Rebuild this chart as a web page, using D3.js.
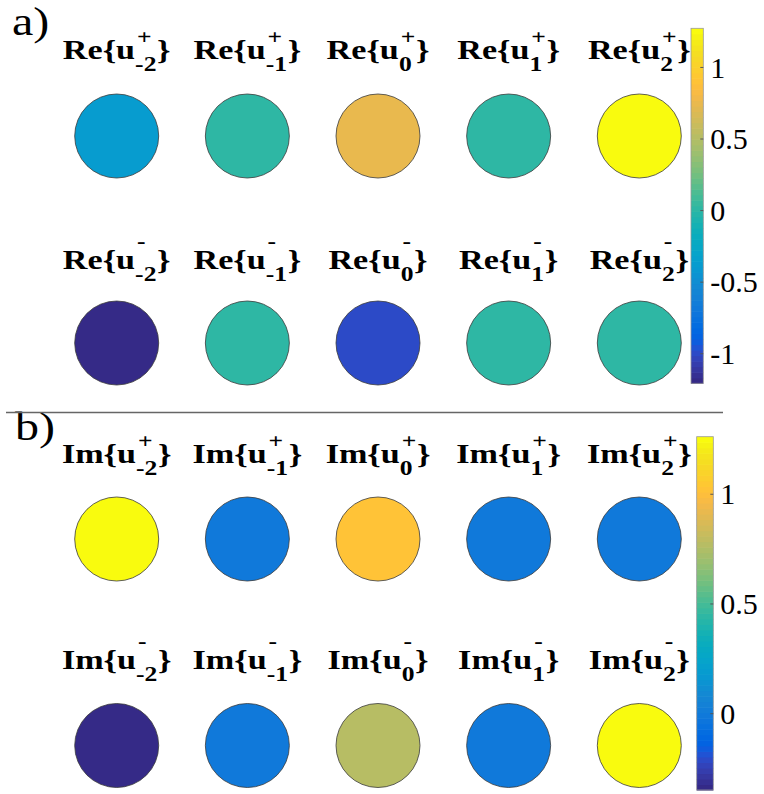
<!DOCTYPE html>
<html>
<head>
<meta charset="utf-8">
<script src="https://cdn.jsdelivr.net/npm/d3@7"></script>
<style>
  html, body { margin: 0; padding: 0; background: #fff; }
  svg { display: block; }
  svg text { font-family: "Liberation Serif", "Times New Roman", Times, serif; }
</style>
</head>
<body>
<svg id="fig" width="764" height="794"></svg>
<script>
// Mode coefficients u^{±}_n for n = -2..2
const orders = [-2, -1, 0, 1, 2];
const orderLabels = ["-2", "-1", "0", "1", "2"];

// Real parts
const reUpper = [-0.38, 0.00, 0.75, 0.00, 1.27];
const reLower = [-1.21, 0.00, -1.00, 0.00, 0.00];
// Imaginary parts
const imUpper = [1.26, 0.00, 1.02, 0.00, 0.00];
const imLower = [-0.35, 0.00, 0.76, 0.00, 1.26];

// Colorbar ticks
const reTicks = [-1, -0.5, 0, 0.5, 1];
const reTickLabels = ["-1", "-0.5", "0", "0.5", "1"];
const imTicks = [0, 0.5, 1];
const imTickLabels = ["0", "0.5", "1"];

// 64-level parula colormap
const parula = [
  [0.2081,0.1663,0.5292],[0.2116,0.1898,0.5777],[0.2123,0.2138,0.6270],[0.2081,0.2386,0.6771],
  [0.1959,0.2645,0.7279],[0.1707,0.2919,0.7792],[0.1253,0.3242,0.8303],[0.0591,0.3598,0.8683],
  [0.0117,0.3875,0.8820],[0.0060,0.4086,0.8828],[0.0165,0.4266,0.8786],[0.0329,0.4430,0.8720],
  [0.0498,0.4586,0.8641],[0.0629,0.4737,0.8554],[0.0723,0.4887,0.8467],[0.0779,0.5040,0.8384],
  [0.0793,0.5200,0.8312],[0.0749,0.5375,0.8263],[0.0641,0.5570,0.8240],[0.0488,0.5772,0.8228],
  [0.0343,0.5966,0.8199],[0.0265,0.6137,0.8135],[0.0239,0.6287,0.8038],[0.0231,0.6418,0.7913],
  [0.0228,0.6535,0.7768],[0.0267,0.6642,0.7607],[0.0384,0.6743,0.7436],[0.0590,0.6838,0.7254],
  [0.0843,0.6928,0.7062],[0.1133,0.7015,0.6859],[0.1453,0.7098,0.6646],[0.1801,0.7177,0.6424],
  [0.2178,0.7250,0.6193],[0.2586,0.7317,0.5954],[0.3022,0.7376,0.5712],[0.3482,0.7424,0.5473],
  [0.3953,0.7459,0.5244],[0.4420,0.7481,0.5033],[0.4871,0.7491,0.4840],[0.5300,0.7491,0.4661],
  [0.5709,0.7485,0.4494],[0.6099,0.7473,0.4337],[0.6473,0.7456,0.4188],[0.6834,0.7435,0.4044],
  [0.7184,0.7411,0.3905],[0.7525,0.7384,0.3768],[0.7858,0.7356,0.3633],[0.8185,0.7327,0.3498],
  [0.8507,0.7299,0.3360],[0.8824,0.7274,0.3217],[0.9139,0.7258,0.3063],[0.9450,0.7261,0.2886],
  [0.9739,0.7314,0.2666],[0.9938,0.7455,0.2403],[0.9990,0.7653,0.2164],[0.9955,0.7861,0.1967],
  [0.9880,0.8066,0.1794],[0.9789,0.8271,0.1633],[0.9697,0.8481,0.1475],[0.9626,0.8705,0.1309],
  [0.9589,0.8949,0.1132],[0.9598,0.9218,0.0948],[0.9661,0.9514,0.0755],[0.9763,0.9831,0.0538]
].map(c => d3.rgb(c[0] * 255, c[1] * 255, c[2] * 255).formatHex());

const svg = d3.select("#fig");

// horizontal placement of the five modes
const x = d3.scaleLinear().domain([-2, 2]).range([116.7, 639.3]);

const panels = [
  {
    tag: "a)", tagX: 12, tagY: 35,
    part: "Re",
    rows: [
      { sign: "+", values: reUpper, cy: 136, titleY: 59 },
      { sign: "-", values: reLower, cy: 343, titleY: 269 }
    ],
    ticks: reTicks, tickLabels: reTickLabels,
    bar: { x: 691, w: 12.3, top: 28.3, bottom: 383.3 }
  },
  {
    tag: "b)", tagX: 15, tagY: 440,
    part: "Im",
    rows: [
      { sign: "+", values: imUpper, cy: 539, titleY: 463 },
      { sign: "-", values: imLower, cy: 745.5, titleY: 669 }
    ],
    ticks: imTicks, tickLabels: imTickLabels,
    bar: { x: 696.7, w: 16.6, top: 436.7, bottom: 790 }
  }
];

const MAIN_SIZE = 28, SCRIPT_SIZE = 21, STRETCH = 1.22, R = 42;

// title of the form Re{u^±_n}, with the two scripts stacked after "u"
function drawTitle(g, cx, baseline, part, sign, sub) {
  const t = g.append("g").style("font-weight", "bold").attr("fill", "#000");
  const head = t.append("text").attr("x", 0).attr("y", 0).style("font-size", MAIN_SIZE + "px").text(part + "{u");
  const w0 = head.node().getComputedTextLength();
  const supDy = sign === "+" ? -15 : -21;
  const sup = t.append("text").attr("x", w0 + 1.5).attr("y", supDy).style("font-size", SCRIPT_SIZE + "px").text(sign);
  const subT = t.append("text").attr("x", w0).attr("y", 11.5).style("font-size", SCRIPT_SIZE + "px").text(sub);
  const w1 = Math.max(sup.node().getComputedTextLength() + 1.5, subT.node().getComputedTextLength());
  const tail = t.append("text").attr("x", w0 + w1 + 0.5).attr("y", 0).style("font-size", MAIN_SIZE + "px").text("}");
  const total = w0 + w1 + 0.5 + tail.node().getComputedTextLength();
  t.attr("transform", `translate(${cx - total * STRETCH / 2},${baseline}) scale(${STRETCH},1)`);
}

panels.forEach(p => {
  const all = p.rows.flatMap(r => r.values);
  const [vmin, vmax] = d3.extent(all);
  const color = d3.scaleQuantize().domain([vmin, vmax]).range(parula);

  const g = svg.append("g");

  // panel tag
  g.append("text")
    .attr("transform", `translate(${p.tagX},${p.tagY}) scale(1.2,1)`)
    .style("font-size", "40px").attr("fill", "#000")
    .text(p.tag);

  p.rows.forEach(row => {
    orders.forEach((n, i) => {
      drawTitle(g, x(n), row.titleY, p.part, row.sign, orderLabels[i]);
    });
    g.selectAll(null).data(row.values).enter().append("circle")
      .attr("cx", (d, i) => x(orders[i]))
      .attr("cy", row.cy)
      .attr("r", R)
      .attr("fill", d => color(d))
      .attr("stroke", "#3a3a3a")
      .attr("stroke-width", 0.8);
  });

  // colorbar
  const b = p.bar;
  const y = d3.scaleLinear().domain([vmin, vmax]).range([b.bottom, b.top]);
  const n = parula.length;
  const step = (vmax - vmin) / n;
  g.append("g").selectAll("rect").data(parula).enter().append("rect")
    .attr("x", b.x).attr("width", b.w)
    .attr("y", (c, i) => y(vmin + (i + 1) * step))
    .attr("height", (c, i) => y(vmin + i * step) - y(vmin + (i + 1) * step) + 0.6)
    .attr("fill", c => c);
  g.append("rect")
    .attr("x", b.x).attr("y", b.top).attr("width", b.w).attr("height", b.bottom - b.top)
    .attr("fill", "none").attr("stroke", "#9a9a9a").attr("stroke-width", 0.8);

  const axis = d3.axisRight(y).tickValues(p.ticks)
    .tickFormat((d, i) => p.tickLabels[i])
    .tickSizeInner(-3).tickSizeOuter(0).tickPadding(7);
  const ax = g.append("g").attr("transform", `translate(${b.x + b.w},0)`).call(axis);
  ax.attr("font-family", null).attr("font-size", null);
  ax.select(".domain").remove();
  ax.selectAll(".tick line").attr("stroke", "#555").attr("stroke-width", 1);
  ax.selectAll(".tick text")
    .style("font-size", "30px").attr("fill", "#000")
    .attr("dy", "0.34em");
});

// separator between the two panels
svg.append("line")
  .attr("x1", 6).attr("x2", 723).attr("y1", 412.5).attr("y2", 412.5)
  .attr("stroke", "#666").attr("stroke-width", 1.3);
</script>
</body>
</html>
